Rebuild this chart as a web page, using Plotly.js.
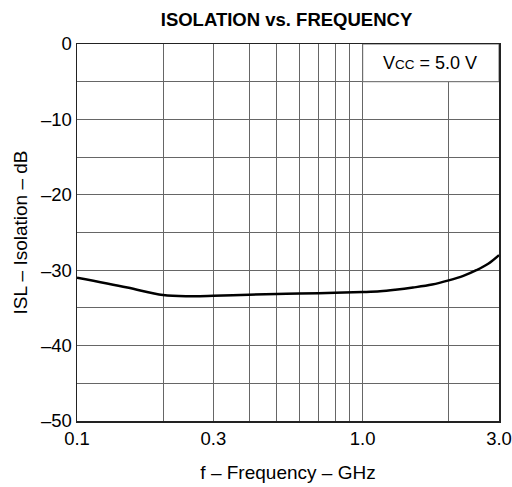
<!DOCTYPE html>
<html>
<head>
<meta charset="utf-8">
<script src="https://cdn.plot.ly/plotly-3.0.1.min.js"></script>
<style>html,body{margin:0;padding:0;background:#fff;}#chart{width:512px;height:487px;}</style>
</head>
<body>
<div id="chart"></div>
<script>
const freqGHz = [0.1, 0.15, 0.2, 0.25, 0.3, 0.4, 0.5, 0.6, 0.8, 1.0, 1.15, 1.3, 1.5, 1.75, 2.0, 2.25, 2.5, 2.75, 3.0];
const isolationDb = [-31.0, -32.3, -33.3, -33.45, -33.4, -33.25, -33.15, -33.1, -33.0, -32.9, -32.8, -32.6, -32.3, -31.9, -31.35, -30.75, -30.0, -29.15, -28.0];
const xTickVals = [0.1, 0.2, 0.3, 0.4, 0.5, 0.6, 0.7, 0.8, 0.9, 1.0, 2.0, 3.0];
const xTickText = ['0.1', '', '0.3', '', '', '', '', '', '', '1.0', '', '3.0'];
const yTickVals = [-50, -45, -40, -35, -30, -25, -20, -15, -10, -5, 0];
const yTickText = ['–50', '', '–40', '', '–30', '', '–20', '', '–10', '', '0'];

const font = 'Liberation Sans, Arial, sans-serif';
const trace = {
  x: freqGHz, y: isolationDb, type: 'scatter', mode: 'lines',
  line: {color: '#000', width: 2.5, shape: 'spline', smoothing: 1},
  hoverinfo: 'skip'
};
const layout = {
  width: 512, height: 487,
  margin: {l: 77, r: 13, t: 44, b: 66},
  paper_bgcolor: '#fff', plot_bgcolor: '#fff',
  showlegend: false,
  font: {family: font, color: '#000', size: 18.5},
  title: {text: '<b>ISOLATION vs. FREQUENCY</b>', x: 0.5596, xanchor: 'center', y: 0.959, yanchor: 'middle', font: {family: font, size: 18.5, color: '#000'}},
  xaxis: {
    type: 'log', range: [-1, Math.log10(3)],
    tickmode: 'array', tickvals: xTickVals, ticktext: xTickText,
    ticks: '', showgrid: true, gridcolor: '#666', gridwidth: 1,
    showline: true, linecolor: '#222', linewidth: 1.5, mirror: true,
    zeroline: false, tickfont: {size: 18.5},
    title: {text: 'f – Frequency – GHz', font: {size: 19}, standoff: 18}
  },
  yaxis: {
    range: [-50, 0], tickmode: 'array', tickvals: yTickVals, ticktext: yTickText,
    ticks: '', showgrid: true, gridcolor: '#666', gridwidth: 1,
    showline: true, linecolor: '#222', linewidth: 1.5, mirror: true,
    zeroline: false, tickfont: {size: 18.5},
    title: {text: 'ISL – Isolation – dB', font: {size: 19}, standoff: 8}
  },
  shapes: [{
    type: 'rect', xref: 'x', yref: 'y', x0: 1.0, x1: 3.0, y0: -5, y1: 0,
    fillcolor: '#fff', line: {color: '#666', width: 1}, layer: 'between'
  }],
  annotations: [{
    xref: 'paper', yref: 'paper', x: 0.836, y: 0.95, xanchor: 'center', yanchor: 'middle',
    text: 'V<span style="font-size:13.5px">CC</span> = 5.0 V', showarrow: false,
    font: {family: font, size: 18, color: '#000'}
  }]
};
Plotly.newPlot('chart', [trace], layout, {displayModeBar: false, staticPlot: true});
</script>
</body>
</html>
